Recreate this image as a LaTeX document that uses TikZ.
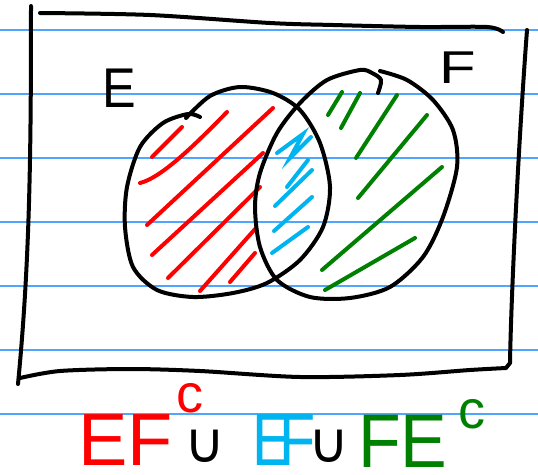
\documentclass[tikz,border=0pt]{standalone}
\usepackage{fontspec}
\setmainfont{Liberation Sans}
\newfontfamily\symfont{DejaVu Sans}
\definecolor{ruleblue}{RGB}{80,165,255}
\definecolor{inkred}{RGB}{255,0,0}
\definecolor{inkcyan}{RGB}{0,180,240}
\definecolor{inkgreen}{RGB}{0,128,0}
\tikzset{
  ruled/.style={ruleblue, line width=1.5pt},
  ink/.style={black, line width=4pt, line cap=round, line join=round},
  hatchred/.style={inkred, line width=4pt, line cap=round},
  hatchcyan/.style={inkcyan, line width=4pt, line cap=round},
  hatchgreen/.style={inkgreen, line width=4pt, line cap=round},
  lbl/.style={inner sep=0pt, anchor=base west},
  unionsym/.style={inner sep=0pt, font=\symfont\fontsize{56}{56}\selectfont},
}
\begin{document}
\begin{tikzpicture}[x=1pt,y=-1pt]
\useasboundingbox[fill=white] (0,0) rectangle (538,474);
% ruled paper
\foreach \yy in {30,94,158,222,286,350,414}
  \draw[ruled] (0,\yy) -- (538,\yy);
% frame
\draw[ink] (31,6) .. controls (31,150) and (30,260) .. (18,384);
\draw[ink] plot[smooth] coordinates {(40,13) (150,15) (270,23) (333,25) (420,27) (487,27) (503,32)};
\draw[ink] plot[smooth] coordinates {(20,378) (60,371) (130,369) (200,371) (300,377) (400,375) (470,370) (506,368)} -- (510,363) .. controls (511,300) and (518,150) .. (527,30);
% hatching red
\draw[hatchred] (152,157) -- (182,127);
\draw[hatchred] (140,183) .. controls (160,178) and (190,150) .. (227,112);
\draw[hatchred] (147,225) -- (273,108);
\draw[hatchred] (152,255) -- (263,153);
\draw[hatchred] (168,278) -- (260,187);
\draw[hatchred] (200,291) -- (256,228);
\draw[hatchred] (230,282) -- (255,253);
% hatching cyan
\draw[hatchcyan] (277,153) -- (303,134) -- (290,158) -- (311,137);
\draw[hatchcyan] (287,187) -- (308,160);
\draw[hatchcyan] (275,206) -- (312,170);
\draw[hatchcyan] (274,231) -- (312,197);
\draw[hatchcyan] (272,253) -- (308,227);
% hatching green
\draw[hatchgreen] (328,115) -- (342,92);
\draw[hatchgreen] (341,128) -- (360,93);
\draw[hatchgreen] (356,158) -- (397,95);
\draw[hatchgreen] (358,198) -- (427,115);
\draw[hatchgreen] (322,270) -- (442,167);
\draw[hatchgreen] (325,290) -- (415,238);
% set E
\draw[ink] plot[smooth] coordinates {(186,118) (210,96) (240,87) (273,93) (300,110) (320,143) (330,187) (323,227) (300,260) (267,283) (233,293) (193,297) (157,290) (133,267) (125,227) (127,187) (140,147) (163,123) (188,114) (200,117)};
% set F
\draw[ink] plot[smooth] coordinates {(378,93) (381,80) (372,73) (360,70) (327,80) (300,103) (277,133) (260,173) (255,207) (260,247) (277,280) (310,297) (350,298) (390,287) (423,257) (443,217) (457,167) (453,130) (433,100) (407,80) (380,71)};
% labels
\node[lbl, font=\fontsize{56}{56}\selectfont] (labE) at (102,107) {\scalebox{0.9}[1]{E}};
\node[lbl, font=\fontsize{46}{46}\selectfont] (labF) at (439,83) {\scalebox{1.3}[1]{F}};
% formula
\node[lbl, inkred, font=\fontsize{74}{74}\selectfont] (t1) at (78,465) {EF};
\node[lbl, inkred, font=\fontsize{54}{54}\selectfont] (t1c) at (176,412) {c};
\node[unionsym] (u1) at (205,446) {∪};
\node[lbl, inkcyan, font=\fontsize{74}{74}\selectfont] (t2e) at (252,465) {\scalebox{0.8}[1]{E}};
\node[lbl, inkcyan, font=\fontsize{74}{74}\selectfont] (t2f) at (279,465) {\scalebox{0.8}[1]{F}};
\node[unionsym] (u2) at (329,446) {∪};
\node[lbl, inkgreen, font=\fontsize{76}{76}\selectfont] (t3) at (358,467) {\scalebox{0.92}[1]{FE}};
\node[lbl, inkgreen, font=\fontsize{54}{54}\selectfont] (t3c) at (458,428) {c};
\end{tikzpicture}
\end{document}
